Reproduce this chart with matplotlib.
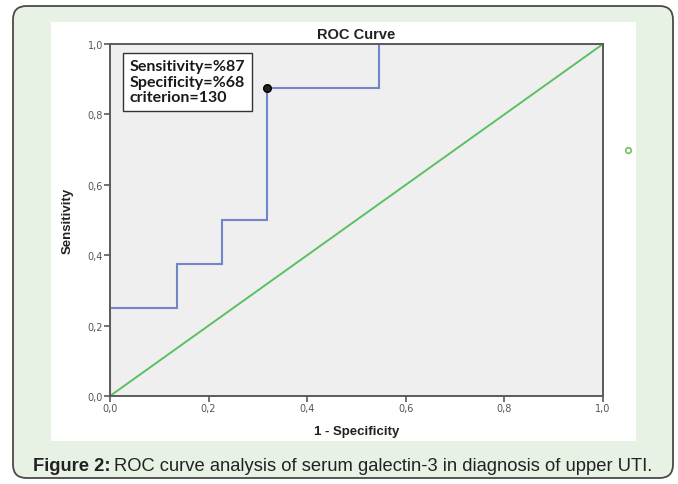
import matplotlib
matplotlib.use("Agg")
from matplotlib import pyplot as plt
from matplotlib.patches import FancyBboxPatch, Rectangle
from matplotlib import font_manager

# ROC points
fpr = [0.0, 0.0, 3/22, 3/22, 5/22, 5/22, 7/22, 7/22, 12/22, 12/22, 1.0]
tpr = [0.0, 0.25, 0.25, 0.375, 0.375, 0.5, 0.5, 0.875, 0.875, 1.0, 1.0]
ref_line = [0.0, 1.0]
cut_point = (7/22, 0.875)
ticks = [0.0, 0.2, 0.4, 0.6, 0.8, 1.0]
tick_labels = ["0,0", "0,2", "0,4", "0,6", "0,8", "1,0"]
box_lines = ["Sensitivity=%87", "Specificity=%68", "criterion=130"]

W, H = 678, 485
names = {f.name for f in font_manager.fontManager.ttflist}
narrow = "Liberation Sans Narrow" if "Liberation Sans Narrow" in names else "Liberation Sans"

fig = plt.figure(figsize=(W/100, H/100), dpi=100, facecolor="white")

def fx(px): return px / W
def fy(py): return 1 - py / H

# outer rounded green box + white panel behind the axes
outer = FancyBboxPatch((fx(13), fy(479)), fx(660), (479 - 7) / H,
                       boxstyle="round,pad=0,rounding_size=0.02",
                       transform=fig.transFigure, facecolor="#e8f2e4",
                       edgecolor="#4a4a4a", linewidth=1.3, mutation_aspect=W/H, zorder=-2)
fig.patches.append(outer)
panel = Rectangle((fx(51), fy(442)), fx(585), (442 - 23) / H,
                  transform=fig.transFigure, facecolor="white", edgecolor="none", zorder=-1)
fig.patches.append(panel)

ax = fig.add_axes([fx(110), fy(397), fx(493), (397 - 45) / H])
ax.set_facecolor("#efefef")
ax.plot(ref_line, ref_line, color="#5cc062", lw=1.4)
ax.plot(fpr, tpr, color="#7385c9", lw=1.5, solid_joinstyle="miter")
ax.plot(*cut_point, "o", ms=5.5, mfc="#222222", mec="black", mew=1)
ax.set_xlim(0, 1)
ax.set_ylim(0, 1)
ax.set_xticks(ticks)
ax.set_xticklabels(tick_labels)
ax.set_yticks(ticks)
ax.set_yticklabels(tick_labels)
for s in ax.spines.values():
    s.set_color("#5a5a5a")
    s.set_linewidth(1.4)
ax.tick_params(direction="out", length=4, width=1.2, color="#5a5a5a",
               labelsize=7, labelcolor="#555555", pad=1)

ax.set_title("ROC Curve", fontsize=10.5, fontweight="bold", family="Liberation Sans",
             color="#222222", pad=4)
ax.set_xlabel("1 - Specificity", fontsize=9.5, fontweight="bold", family="Liberation Sans",
              color="#222222", labelpad=9)
ax.set_ylabel("Sensitivity", fontsize=9.5, fontweight="bold", family=narrow,
              color="#222222", labelpad=10)

ax.text(0.04, 0.956, "\n".join(box_lines), transform=ax.transAxes, va="top", ha="left",
        fontsize=11.5, fontweight="bold", family="Lato", color="#1a1a1a", linespacing=1.12,
        bbox=dict(boxstyle="square,pad=0.4", facecolor="white", edgecolor="#333333", lw=1))

# stray green circle right of the plot
ax.plot(1.051, 0.70, "o", ms=4, mfc="none", mec="#7cc46a", mew=1.3, clip_on=False)

# caption
fig.canvas.draw()
r = fig.canvas.get_renderer()
t1 = fig.text(fx(33), fy(467), "Figure 2:", fontsize=13.2, fontweight="bold",
              family=narrow, color="#222222", va="center")
bb = t1.get_window_extent(r)
fig.text(bb.x1 / W + fx(4), fy(467),
         "ROC curve analysis of serum galectin-3 in diagnosis of upper UTI.",
         fontsize=13.2, family=narrow, color="#222222", va="center")

fig.savefig("out.png", dpi=100, facecolor="white")
